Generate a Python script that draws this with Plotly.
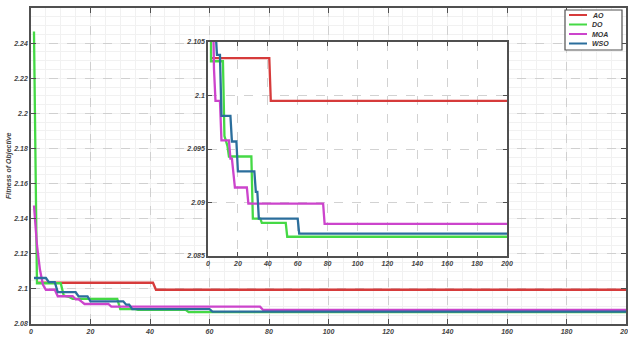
import plotly.graph_objects as go

# ---------------- data ----------------
SERIES_NAMES = ["AO", "DO", "MOA", "WSO"]
SERIES_COLORS = ["#d63b3b", "#45d945", "#cc44cc", "#2b6e9c"]

ITER_AO = [2, 41, 42, 200]
FIT_AO = [2.1035, 2.1035, 2.0995, 2.0995]

ITER_DO = [1, 2, 10, 11, 13, 14, 29, 30, 35, 36, 52, 53, 200]
FIT_DO = [2.2466, 2.1032, 2.1032, 2.0962, 2.0953, 2.0943, 2.0943, 2.0885,
          2.0885, 2.0881, 2.0881, 2.0868, 2.0868]

ITER_MOA = [1, 2, 3, 4, 5, 8, 9, 14, 15, 16, 17, 18, 26, 27, 77, 78, 200]
FIT_MOA = [2.1475, 2.125, 2.111, 2.1025, 2.0995, 2.0995, 2.0958, 2.0958,
           2.0941, 2.0941, 2.0927, 2.0914, 2.0914, 2.0899, 2.0899, 2.0880, 2.0880]

ITER_WSO = [1, 5, 6, 8, 9, 15, 16, 19, 20, 31, 32, 33, 34, 60, 61, 200]
FIT_WSO = [2.1062, 2.1062, 2.1038, 2.1038, 2.0981, 2.0981, 2.0957, 2.0957,
           2.0929, 2.0929, 2.0910, 2.0910, 2.0885, 2.0885, 2.0871, 2.0871]

MAIN_X_TICKS = [0, 20, 40, 60, 80, 100, 120, 140, 160, 180, 200]
MAIN_X_LABELS = ["0", "20", "40", "60", "80", "100", "120", "140", "160", "180", "200"]
MAIN_Y_TICKS = [2.08, 2.10, 2.12, 2.14, 2.16, 2.18, 2.20, 2.22, 2.24]
MAIN_Y_LABELS = ["2.08", "2.1", "2.12", "2.14", "2.16", "2.18", "2.2", "2.22", "2.24"]
INSET_Y_TICKS = [2.085, 2.09, 2.095, 2.10, 2.105]
INSET_Y_LABELS = ["2.085", "2.09", "2.095", "2.1", "2.105"]

Y_TITLE = "Fitness of Objective"

ITERS = [ITER_AO, ITER_DO, ITER_MOA, ITER_WSO]
FITS = [FIT_AO, FIT_DO, FIT_MOA, FIT_WSO]

MAIN_X_RANGE = [0, 200]
MAIN_Y_RANGE = [2.08, 2.26]
INSET_X_RANGE = [0, 200]
INSET_Y_RANGE = [2.085, 2.105]

# ---------------- figure ----------------
W, H = 628, 339
ML, MR, MT, MB = 31, 2, 8, 15
PW, PH = W - ML - MR, H - MT - MB

def px_x(p):
    return (p - ML) / PW

def px_y(p):
    return (H - MB - p) / PH

fig = go.Figure()

for name, color, xs, ys in zip(SERIES_NAMES, SERIES_COLORS, ITERS, FITS):
    fig.add_trace(go.Scatter(x=xs, y=ys, mode="lines", name=name,
                             line=dict(color=color, width=2.3),
                             xaxis="x", yaxis="y", showlegend=False))
for name, color, xs, ys in zip(SERIES_NAMES, SERIES_COLORS, ITERS, FITS):
    fig.add_trace(go.Scatter(x=xs, y=ys, mode="lines", name=name,
                             line=dict(color=color, width=2.3),
                             xaxis="x2", yaxis="y2", showlegend=False))

tickfont = dict(family="Liberation Sans, Arial", size=7, color="#444444",
                weight="bold", style="italic")
axline = dict(showline=True, linecolor="#505050", linewidth=1.5, mirror="ticks",
              ticks="inside", tickcolor="#505050", tickwidth=1.2, zeroline=False,
              ticklabeloverflow="allow", automargin=False)

ix0, ix1 = px_x(208), px_x(507)
iy0, iy1 = px_y(256), px_y(42)

fig.update_layout(
    width=W, height=H,
    margin=dict(l=ML, r=MR, t=MT, b=MB, autoexpand=False),
    paper_bgcolor="white", plot_bgcolor="white",
    showlegend=False,
    xaxis=dict(domain=[0, 1], range=MAIN_X_RANGE, tickvals=MAIN_X_TICKS,
               ticktext=MAIN_X_LABELS, ticklen=5, tickfont=tickfont,
               showgrid=True, gridcolor="#d0d0d0", griddash="dash", gridwidth=1,
               minor=dict(dtick=5, showgrid=True, gridcolor="#f1f1f1",
                          griddash="solid", gridwidth=1),
               **axline),
    yaxis=dict(domain=[0, 1], range=MAIN_Y_RANGE, tickvals=MAIN_Y_TICKS,
               ticktext=MAIN_Y_LABELS, ticklen=5, tickfont=tickfont,
               showgrid=True, gridcolor="#d0d0d0", griddash="dash", gridwidth=1,
               minor=dict(dtick=0.005, tick0=2.08, showgrid=True,
                          gridcolor="#f1f1f1", griddash="solid", gridwidth=1),
               **axline),
    xaxis2=dict(domain=[ix0, ix1], anchor="y2", range=INSET_X_RANGE,
                tickvals=MAIN_X_TICKS, ticktext=MAIN_X_LABELS, ticklen=4,
                tickfont=tickfont, showgrid=True, gridcolor="#d2d2d2",
                griddash="dash", gridwidth=1, **axline),
    yaxis2=dict(domain=[iy0, iy1], anchor="x2", range=INSET_Y_RANGE,
                tickvals=INSET_Y_TICKS, ticktext=INSET_Y_LABELS, ticklen=4,
                tickfont=tickfont, showgrid=True, gridcolor="#d2d2d2",
                griddash="dash", gridwidth=1, **axline),
)

# white backing for the inset, above the main grid but below the main traces
sx = MAIN_X_RANGE[1] - MAIN_X_RANGE[0]
sy = MAIN_Y_RANGE[1] - MAIN_Y_RANGE[0]
fig.add_shape(type="rect", xref="x", yref="y",
              x0=MAIN_X_RANGE[0] + ix0 * sx, x1=MAIN_X_RANGE[0] + ix1 * sx,
              y0=MAIN_Y_RANGE[0] + iy0 * sy, y1=MAIN_Y_RANGE[0] + iy1 * sy,
              layer="between", fillcolor="white", line=dict(width=0))

# manual legend (compact, like the original)
fig.add_shape(type="rect", xref="paper", yref="paper",
              x0=px_x(565), x1=px_x(622), y0=px_y(50), y1=px_y(10),
              fillcolor="white", line=dict(color="#505050", width=1.2), layer="above")
rows = [15, 24.5, 34, 43.5]
for name, color, ry in zip(SERIES_NAMES, SERIES_COLORS, rows):
    fig.add_shape(type="line", xref="paper", yref="paper",
                  x0=px_x(569), x1=px_x(587), y0=px_y(ry), y1=px_y(ry),
                  line=dict(color=color, width=2), layer="above")
    fig.add_annotation(xref="paper", yref="paper", x=px_x(590), y=px_y(ry),
                       text=name, showarrow=False, xanchor="left", yanchor="middle",
                       font=dict(family="Liberation Sans, Arial", size=7,
                                 color="#333333", weight="bold", style="italic"))

fig.add_annotation(xref="paper", yref="paper", x=px_x(9), y=0.5, text=Y_TITLE,
                   textangle=-90, showarrow=False, xanchor="center", yanchor="middle",
                   font=dict(family="Liberation Sans, Arial", size=7, color="#444444",
                             weight="bold", style="italic"))

fig.write_html("out.html")
